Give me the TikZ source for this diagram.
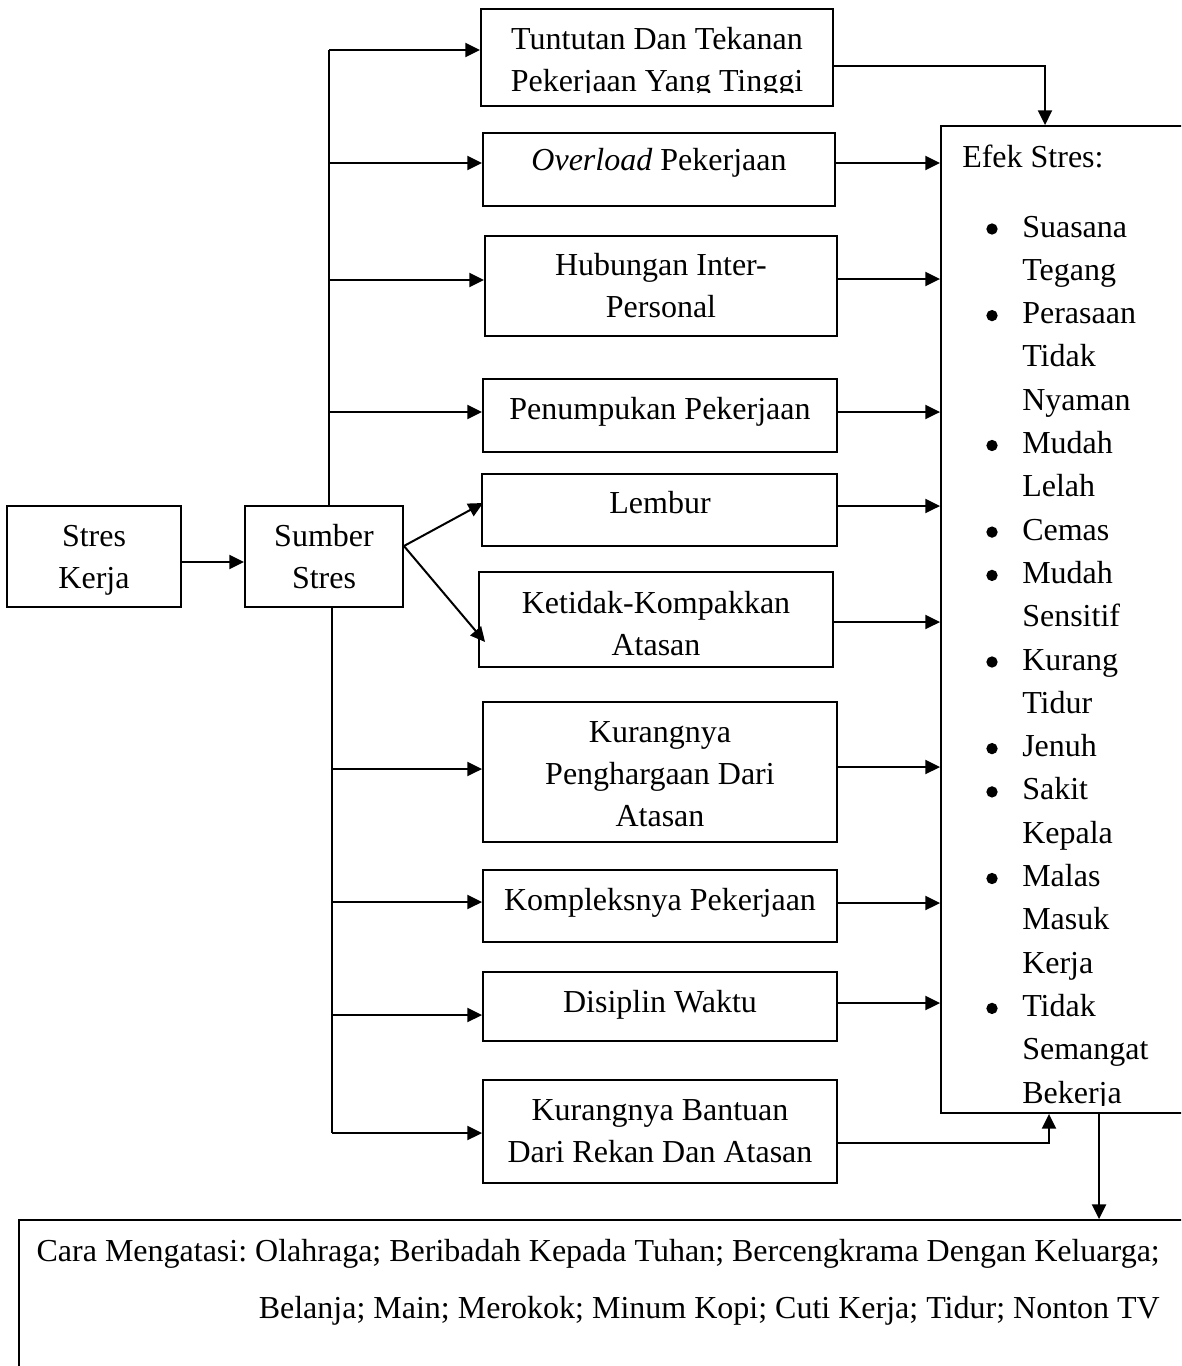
\documentclass[tikz,border=0pt]{standalone}
\usepackage{fontspec}
\setmainfont{Liberation Serif}
\usetikzlibrary{arrows.meta,fit,calc}
\frenchspacing
\begin{document}
\begin{tikzpicture}[x=0.75pt,y=-0.75pt,
  box/.style={draw, line width=1.4pt, inner sep=0pt},
  txt/.style={inner sep=0pt, font=\fontsize{24}{31.5}\selectfont},
  bullet/.style={circle, fill, inner sep=0pt, minimum size=8.5pt},
  link/.style={line width=1.5pt},
  arr/.style={line width=1.5pt, -{Triangle[length=11pt,width=10.5pt]}}]
\clip (0,0) rectangle (1181,1366);

% ---------- boxes ----------
\node[box, fit={(7,506) (181,607)}] (stres) {};
\node[box, fit={(245,506) (403,607)}] (sumber) {};
\node[box, fit={(481,9) (833,106)}] (tuntutan) {};
\node[box, fit={(483,133) (835,206)}] (overload) {};
\node[box, fit={(485,236) (837,336)}] (hubungan) {};
\node[box, fit={(483,379) (837,452)}] (penumpukan) {};
\node[box, fit={(482,474) (837,546)}] (lembur) {};
\node[box, fit={(479,572) (833,667)}] (ketidak) {};
\node[box, fit={(483,702) (837,842)}] (penghargaan) {};
\node[box, fit={(483,870) (837,942)}] (kompleks) {};
\node[box, fit={(483,972) (837,1041)}] (disiplin) {};
\node[box, fit={(483,1080) (837,1183)}] (bantuan) {};
\node[box, fit={(941,126) (1200,1113)}] (efek) {};
\node[box, fit={(19,1220) (1200,1400)}] (cope) {};

% ---------- box texts ----------
\node[txt, anchor=base] (stres-1) at (94,546) {Stres};
\node[txt, anchor=base] (stres-2) at (94,588) {Kerja};
\node[txt, anchor=base] (sumber-1) at (324,546) {Sumber};
\node[txt, anchor=base] (sumber-2) at (324,588) {Stres};
\begin{scope}
  \clip (481,9) rectangle (833,93);
  \node[txt, anchor=base] (tuntutan-1) at (657,50) {Tuntutan Dan Tekanan};
  \node[txt, anchor=base] (tuntutan-2) at (657,92) {Pekerjaan Yang Tinggi};
\end{scope}
\node[txt, anchor=base] (overload-1) at (659,171) {\textit{Overload} Pekerjaan};
\node[txt, anchor=base] (hubungan-1) at (661,275) {Hubungan Inter-};
\node[txt, anchor=base] (hubungan-2) at (661,317) {Personal};
\node[txt, anchor=base] (penumpukan-1) at (660,419) {Penumpukan Pekerjaan};
\node[txt, anchor=base] (lembur-1) at (660,513) {Lembur};
\node[txt, anchor=base] (ketidak-1) at (656,613) {Ketidak-Kompakkan};
\node[txt, anchor=base] (ketidak-2) at (656,655) {Atasan};
\node[txt, anchor=base] (penghargaan-1) at (660,742) {Kurangnya};
\node[txt, anchor=base] (penghargaan-2) at (660,784) {Penghargaan Dari};
\node[txt, anchor=base] (penghargaan-3) at (660,826) {Atasan};
\node[txt, anchor=base] (kompleks-1) at (660,910) {Kompleksnya Pekerjaan};
\node[txt, anchor=base] (disiplin-1) at (660,1012) {Disiplin Waktu};
\node[txt, anchor=base] (bantuan-1) at (660,1120) {Kurangnya Bantuan};
\node[txt, anchor=base] (bantuan-2) at (660,1162) {Dari Rekan Dan Atasan};

% ---------- effects list ----------
\node[txt, anchor=base west] (efek-title) at (962,167) {Efek Stres:};
\begin{scope}
  \clip (941,126) rectangle (1181,1105);
  \foreach \t [count=\i from 0] in {Suasana, Tegang, Perasaan, Tidak, Nyaman,
      Mudah, Lelah, Cemas, Mudah, Sensitif, Kurang, Tidur, Jenuh, Sakit,
      Kepala, Malas, Masuk, Kerja, Tidak, Semangat, Bekerja}
    \node[txt, anchor=base west] (efek-\i) at (1022,{237+43.3*\i}) {\t};
  \foreach \i in {0,2,5,7,8,10,12,13,15,18}
    \node[bullet] (dot-\i) at (992,{229+43.3*\i}) {};
\end{scope}

% ---------- coping text ----------
\node[txt, anchor=base east] (cope-1) at (1160,1261)
  {Cara Mengatasi: Olahraga; Beribadah Kepada Tuhan; Bercengkrama Dengan Keluarga;};
\node[txt, anchor=base east] (cope-2) at (1160,1318)
  {Belanja; Main; Merokok; Minum Kopi; Cuti Kerja; Tidur; Nonton TV};

% ---------- connectors ----------
\draw[arr] (stres.east |- 0,562) -- (sumber.west |- 0,562);

\coordinate (jTop) at (329,50);
\coordinate (jBot) at (332,1133);
\coordinate (fork) at (403,546);
\draw[link] (sumber.north -| jTop) -- (jTop);
\draw[link] (sumber.south -| jBot) -- (jBot);
\draw[arr] (jTop) -- (tuntutan.west |- jTop);
\draw[arr] (jBot) -- (bantuan.west |- jBot);
\foreach \n/\y in {overload/163, hubungan/280, penumpukan/412}
  \draw[arr] (jTop |- 0,\y) -- (\n.west |- 0,\y);
\foreach \n/\y in {penghargaan/769, kompleks/902, disiplin/1015}
  \draw[arr] (jBot |- 0,\y) -- (\n.west |- 0,\y);
\draw[arr] (sumber.east |- fork) -- ($(lembur.west |- 0,503)+(2,0)$);
\draw[arr] (sumber.east |- fork) -- ($(ketidak.west |- 0,642)+(7,0)$);

\foreach \n/\y in {overload/163, hubungan/279, penumpukan/412, lembur/506,
    ketidak/622, penghargaan/767, kompleks/903, disiplin/1003}
  \draw[arr] (\n.east |- 0,\y) -- (efek.west |- 0,\y);
\draw[arr] (tuntutan.east |- 0,66) -| (efek.north -| 1045,0);
\draw[arr] (bantuan.east |- 0,1143) -| (efek.south -| 1049,0);
\draw[arr] (efek.south -| 1099,0) -- (cope.north -| 1099,0);
\end{tikzpicture}
\end{document}
